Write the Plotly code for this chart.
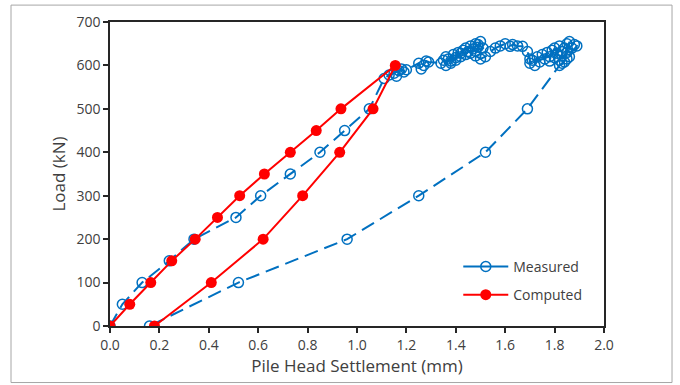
import plotly.graph_objects as go

# Measured load-settlement (loading, plateau, unloading)
measured_x = [0.00, 0.05, 0.13, 0.24, 0.34, 0.51, 0.61, 0.73, 0.85, 0.95, 1.05,
              1.11, 1.13, 1.15, 1.17, 1.16, 1.18, 1.19, 1.20, 1.25, 1.26, 1.27, 1.28, 1.29,
              1.34, 1.35, 1.36, 1.37, 1.36, 1.38, 1.39, 1.38, 1.40, 1.41, 1.40, 1.42, 1.43,
              1.42, 1.44, 1.45, 1.44, 1.46, 1.47, 1.46, 1.48, 1.49, 1.48, 1.50, 1.49, 1.51,
              1.48, 1.50, 1.52,
              1.54, 1.56, 1.58, 1.60, 1.62, 1.63, 1.65, 1.67, 1.69, 1.70, 1.70,
              1.71, 1.72, 1.73, 1.74, 1.75, 1.76, 1.77, 1.78, 1.79, 1.78, 1.80, 1.81, 1.80,
              1.82, 1.83, 1.82, 1.84, 1.83, 1.85, 1.84, 1.86, 1.85, 1.87, 1.86, 1.88, 1.89,
              1.85, 1.83, 1.82,
              1.69, 1.52, 1.25, 0.96, 0.52, 0.16]
measured_y = [0, 50, 100, 150, 200, 250, 300, 350, 400, 450, 500,
              570, 578, 582, 588, 575, 592, 585, 590, 605, 592, 600, 610, 608,
              605, 612, 600, 615, 620, 610, 625, 605, 618, 630, 612, 628, 635,
              620, 640, 632, 625, 645, 638, 628, 650, 642, 632, 655, 648, 640,
              622, 615, 620,
              632, 640, 645, 650, 644, 648, 645, 644, 632, 615, 605,
              612, 600, 620, 608, 625, 615, 630, 620, 635, 610, 640, 628, 618,
              645, 632, 612, 640, 622, 650, 608, 655, 630, 640, 620, 648, 645,
              615, 605, 600,
              500, 400, 300, 200, 100, 0]

# Computed load-settlement (loading then unloading)
computed_x = [0.00, 0.08, 0.165, 0.25, 0.345, 0.435, 0.525, 0.625, 0.73, 0.835, 0.935, 1.155,
              1.065, 0.93, 0.78, 0.62, 0.41, 0.18]
computed_y = [0, 50, 100, 150, 200, 250, 300, 350, 400, 450, 500, 600,
              500, 400, 300, 200, 100, 0]

x_ticks = [0.0, 0.2, 0.4, 0.6, 0.8, 1.0, 1.2, 1.4, 1.6, 1.8, 2.0]
y_ticks = [0, 100, 200, 300, 400, 500, 600, 700]

FONT = "Open Sans"
TXT = "#404040"
BLUE = "#0070C0"
RED = "#FF0000"

fig = go.Figure()
fig.add_trace(go.Scatter(
    x=measured_x, y=measured_y, name="Measured", mode="lines+markers",
    showlegend=False,
    line=dict(color=BLUE, width=2, dash="14px,7px"),
    marker=dict(symbol="circle-open", size=10, color=BLUE, line=dict(width=1.5)),
))
fig.add_trace(go.Scatter(
    x=computed_x, y=computed_y, name="Computed", mode="lines+markers",
    showlegend=False,
    line=dict(color=RED, width=2),
    marker=dict(symbol="circle", size=11, color=RED),
))
# legend entries (solid sample lines, as in the original)
fig.add_trace(go.Scatter(
    x=[None], y=[None], name="Measured", mode="lines+markers", legendgroup="m",
    line=dict(color=BLUE, width=2),
    marker=dict(symbol="circle-open", size=10, color=BLUE, line=dict(width=1.5)),
))
fig.add_trace(go.Scatter(
    x=[None], y=[None], name="Computed", mode="lines+markers", legendgroup="c",
    line=dict(color=RED, width=2),
    marker=dict(symbol="circle", size=11, color=RED),
))

fig.update_layout(
    width=680, height=385,
    margin=dict(l=110, r=76, t=20, b=59),
    paper_bgcolor="white", plot_bgcolor="white",
    font=dict(family=FONT, size=14, color=TXT),
    showlegend=True,
    legend=dict(x=0.705, y=0.247, xanchor="left", yanchor="top",
                bgcolor="rgba(0,0,0,0)", font=dict(size=14, color=TXT),
                tracegroupgap=7, traceorder="grouped", itemwidth=45),
    xaxis=dict(range=[0, 2.0], tickvals=x_ticks, ticktext=[f"{v:.1f}" for v in x_ticks],
               showgrid=False, zeroline=False, showline=True, mirror=True,
               linecolor="#262626", linewidth=1.5, ticks="outside", ticklen=5,
               tickcolor="#262626", tickwidth=1.5,
               title=dict(text="Pile Head Settlement (mm)", standoff=8)),
    yaxis=dict(range=[0, 700], tickvals=y_ticks,
               showgrid=False, zeroline=False, showline=True, mirror=True,
               linecolor="#262626", linewidth=1.5, ticks="outside", ticklen=5,
               tickcolor="#262626", tickwidth=1.5,
               title=dict(text="Load (kN)", standoff=6)),
    shapes=[dict(type="rect", xref="paper", yref="paper",
                 x0=-0.2004, x1=1.1377, y0=-0.186, y1=1.0556,
                 line=dict(color="#a6a6a6", width=1), layer="below")],
)

fig.write_html("out.html", config={"displayModeBar": False},
               post_script="document.body.style.margin='0px';")
